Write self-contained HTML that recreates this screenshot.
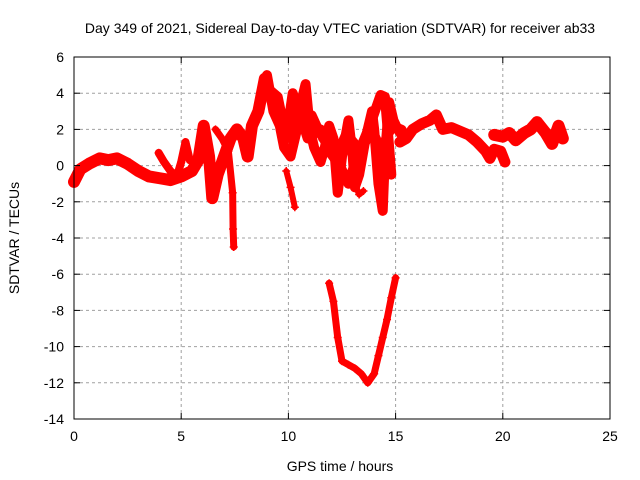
<!DOCTYPE html>
<html><head><meta charset="utf-8"><style>
body{margin:0;background:#fff;}
svg{display:block;font-family:"Liberation Sans",sans-serif;}
</style></head><body>
<svg id="chart" width="640" height="480">
<text x="340" y="33" font-size="14" text-anchor="middle">Day 349 of 2021, Sidereal Day-to-day VTEC variation (SDTVAR) for receiver ab33</text>
<text transform="translate(19,238) rotate(-90)" font-size="14" text-anchor="middle">SDTVAR / TECUs</text>
<text x="340" y="471" font-size="14" text-anchor="middle">GPS time / hours</text>
<g id="grid"></g><g id="marks"></g>
<rect x="74" y="57" width="536" height="362" fill="none" stroke="#000" stroke-width="1"/>
<g id="ticks"></g>
</svg>
<script>
const xTicks=[0,5,10,15,20,25];
const yTicks=[6,4,2,0,-2,-4,-6,-8,-10,-12,-14];
const segATimes=[0,0.3,0.7,1.2,1.6,2.0,2.5,3.0,3.5,4.0,4.5,5.0,5.5,5.8,6.05,6.3,6.45,6.7,7.0,7.3,7.6,7.9,8.1,8.3,8.6,8.9];
const segAValues=[-0.9,-0.2,0.1,0.4,0.3,0.4,0.1,-0.3,-0.6,-0.7,-0.8,-0.6,-0.3,0.3,2.2,0.5,-1.8,-0.5,0.5,1.5,2.0,1.5,0.5,2.2,3.0,4.8];
const segA2Times=[3.95,4.2,4.5,4.8,5.0,5.2,5.4];
const segA2Values=[0.7,0.2,-0.3,-0.6,0.2,1.3,0.3];
const segA3Times=[6.6,6.9,7.2,7.4,7.42,7.45];
const segA3Values=[2.0,1.5,0.8,-1.5,-3.5,-4.5];
const segBTimes=[9.0,9.3,9.6,9.8,10.1,10.4,10.6,10.8,11.0,11.2,11.5,11.7,11.9,12.1,12.3,12.5,12.8,13.0,13.1,13.3,13.6,13.9,14.0,14.2,14.4,14.5,14.7,14.9,15.1,15.4];
const segBValues=[5.0,3.0,2.2,1.0,0.5,2.0,3.5,4.5,2.0,1.0,0.2,1.0,2.2,1.5,-1.5,0.5,2.5,0.5,-1.2,-0.5,1.5,3.0,2.0,-1.0,-2.5,0.5,3.5,2.5,2.0,1.5];
const segB2Times=[9.1,9.5,9.9,10.2,10.5,10.9,11.5,11.9,12.4,12.8,13.2,13.8,14.3,14.5,14.7,14.8];
const segB2Values=[4.2,3.8,1.5,4.0,3.0,1.5,2.0,0.8,0.0,-1.0,0.5,2.2,3.9,3.8,1.0,-0.5];
const segB5Times=[9.2,9.6,10.0,10.5,11.1,11.6,12.2,12.7,13.4,13.9,14.3,14.9,15.3];
const segB5Values=[3.5,3.0,1.8,2.5,2.8,1.5,0.5,1.8,0.8,2.0,1.0,2.2,2.0];
const segB3Times=[9.9,10.1,10.3];
const segB3Values=[-0.3,-1.2,-2.3];
const segB4Times=[13.1,13.3,13.5];
const segB4Values=[-1.0,-1.6,-1.4];
const segCTimes=[15.2,15.5,15.8,16.2,16.6,16.9,17.2,17.6,18.0,18.4,18.8,19.2,19.4,19.6,19.9,20.1];
const segCValues=[1.3,1.5,2.0,2.3,2.5,2.8,2.0,2.1,1.9,1.7,1.3,0.8,0.4,0.9,0.8,0.2];
const segC2Times=[19.6,20.0,20.3,20.6,21.0,21.3,21.6,22.0,22.3,22.6,22.8];
const segC2Values=[1.7,1.6,1.8,1.4,1.8,2.0,2.4,1.8,1.2,2.2,1.5];
const segDTimes=[11.9,12.1,12.3,12.5,12.8,13.1,13.4,13.7,14.0,14.2,14.4,14.6,14.8,15.0];
const segDValues=[-6.5,-7.5,-9.5,-10.8,-11.0,-11.2,-11.5,-12.0,-11.5,-10.5,-9.5,-8.5,-7.3,-6.2];

const X0=74,X1=610,Y0=419,Y1=57;
const xs=t=>X0+(t-0)/(25-0)*(X1-X0);
const ys=v=>Y0-(v+14)/(6+14)*(Y0-Y1);
const NS="http://www.w3.org/2000/svg";
const grid=document.getElementById('grid'),ticks=document.getElementById('ticks'),marks=document.getElementById('marks');
function mk(tag,attrs,parent){const e=document.createElementNS(NS,tag);for(const k in attrs)e.setAttribute(k,attrs[k]);parent.appendChild(e);return e;}
xTicks.forEach(t=>{
  const x=xs(t);
  if(t>0&&t<25){const g=mk('line',{x1:x,y1:Y0,x2:x,y2:Y1,stroke:'#a0a0a0','stroke-dasharray':'3,3'},grid);
  
  }
  mk('line',{x1:x,y1:Y0,x2:x,y2:Y0-6,stroke:'#000'},ticks);
  mk('line',{x1:x,y1:Y1,x2:x,y2:Y1+6,stroke:'#000'},ticks);
  const l=mk('text',{x:x,y:Y0+22,'font-size':14,'text-anchor':'middle'},ticks);l.textContent=t;
  
  
});
yTicks.forEach(v=>{
  const y=ys(v);
  if(v>-14&&v<6){const g=mk('line',{x1:X0,y1:y,x2:X1,y2:y,stroke:'#a0a0a0','stroke-dasharray':'3,3'},grid);
  
  }
  mk('line',{x1:X0,y1:y,x2:X0+6,y2:y,stroke:'#000'},ticks);
  mk('line',{x1:X1,y1:y,x2:X1-6,y2:y,stroke:'#000'},ticks);
  const l=mk('text',{x:X0-10,y:y+5,'font-size':14,'text-anchor':'end'},ticks);l.textContent=v;
  
  
});
const series=[[segATimes,segAValues,12],[segA2Times,segA2Values,8],[segA3Times,segA3Values,7],[segBTimes,segBValues,10],[segB2Times,segB2Values,10],[segB5Times,segB5Values,9],[segB3Times,segB3Values,6],[segB4Times,segB4Values,6],[segCTimes,segCValues,11],[segC2Times,segC2Values,12],[segDTimes,segDValues,7]];
series.forEach(([T,V,w])=>{
  const pts=T.map((t,i)=>xs(t)+','+ys(V[i])).join(' ');
  const p=mk('polyline',{points:pts,fill:'none',stroke:'#ff0000','stroke-width':w,'stroke-linejoin':'round','stroke-linecap':'round'},marks);
  
  
  T.forEach((t,i)=>{
    const x=xs(t),y=ys(V[i]);
    const m=mk('path',{d:`M${x-4},${y}H${x+4}M${x},${y-4}V${y+4}`,stroke:'#ff0000','stroke-width':1.5},marks);
    
    
  });
});
</script>
</body></html>
